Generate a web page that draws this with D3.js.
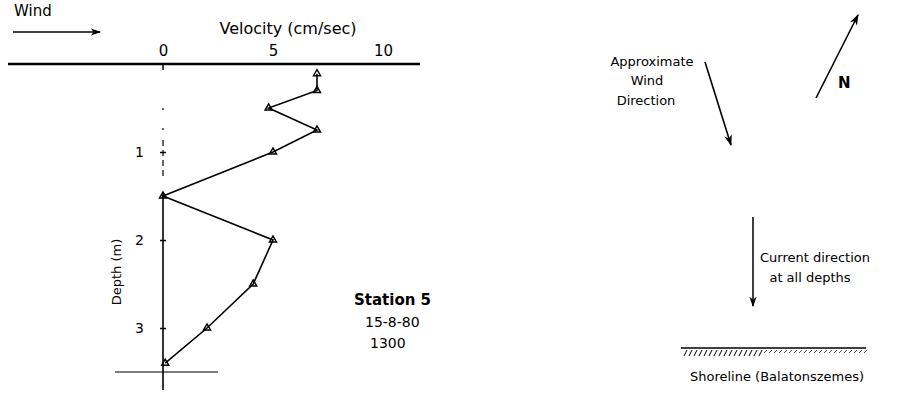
<!DOCTYPE html>
<html>
<head>
<meta charset="utf-8">
<script src="https://cdn.jsdelivr.net/npm/d3@7/dist/d3.min.js"></script>
<style>
  body { margin: 0; background: #fff; }
  text { font-family: "DejaVu Sans", sans-serif; fill: #000; }
</style>
</head>
<body>
<div id="chart"></div>
<script>
const depths = [0.11, 0.3, 0.5, 0.75, 1.0, 1.5, 2.0, 2.5, 3.0, 3.4];
const velocity = [7.0, 7.0, 4.8, 7.0, 5.0, 0.0, 5.0, 4.1, 2.0, 0.1];
const velocityTicks = [0, 5, 10];
const depthTicks = [1, 2, 3];

const width = 905;
const height = 393;

const svg = d3.select('#chart').append('svg')
    .attr('width', width)
    .attr('height', height);

const x = d3.scaleLinear().domain([0, 10]).range([163, 383]);
const y = d3.scaleLinear().domain([0, 3]).range([64, 328]);

// arrow head
svg.append('defs').append('marker')
    .attr('id', 'head')
    .attr('viewBox', '0 0 10 10')
    .attr('refX', 9).attr('refY', 5)
    .attr('markerWidth', 7).attr('markerHeight', 7)
    .attr('orient', 'auto')
    .append('path')
    .attr('d', 'M0,1.5 L10,5 L0,8.5 L3,5 Z')
    .attr('fill', '#000');

// wind label, top left
svg.append('text').attr('x', 14).attr('y', 16).style('font-size', '15px').text('Wind');
svg.append('line')
    .attr('x1', 13).attr('y1', 32).attr('x2', 100).attr('y2', 32)
    .attr('stroke', '#000').attr('stroke-width', 1.5)
    .attr('marker-end', 'url(#head)');

// velocity axis (top)
svg.append('text')
    .attr('x', 288).attr('y', 34)
    .attr('text-anchor', 'middle')
    .style('font-size', '16px')
    .text('Velocity (cm/sec)');

const xAxis = svg.append('g')
    .attr('transform', 'translate(0,64)')
    .call(d3.axisTop(x).tickValues(velocityTicks).tickSize(0).tickPadding(8));
xAxis.select('.domain').remove();
xAxis.selectAll('text').style('font-size', '15px').style('font-family', '"DejaVu Sans", sans-serif');

svg.append('line')
    .attr('x1', 8).attr('x2', 420).attr('y1', 64).attr('y2', 64)
    .attr('stroke', '#000').attr('stroke-width', 2.5);

// depth axis: short solid stub, dotted upper part, solid lower part
svg.append('line')
    .attr('x1', x(0)).attr('x2', x(0)).attr('y1', 64).attr('y2', 70)
    .attr('stroke', '#000').attr('stroke-width', 1.5);
svg.append('line')
    .attr('x1', x(0)).attr('x2', x(0)).attr('y1', 108).attr('y2', 140)
    .attr('stroke', '#000').attr('stroke-width', 1.2)
    .attr('stroke-dasharray', '2,18');
svg.append('line')
    .attr('x1', x(0)).attr('x2', x(0)).attr('y1', 140).attr('y2', 180)
    .attr('stroke', '#000').attr('stroke-width', 1.2)
    .attr('stroke-dasharray', '6,4');
svg.append('line')
    .attr('x1', x(0)).attr('x2', x(0)).attr('y1', 192).attr('y2', 390)
    .attr('stroke', '#000').attr('stroke-width', 1.6);

const yAxis = svg.append('g')
    .attr('transform', 'translate(' + (x(0) + 3) + ',0)')
    .call(d3.axisLeft(y).tickValues(depthTicks).tickFormat(d3.format('d')).tickSize(6).tickPadding(16));
yAxis.select('.domain').remove();
yAxis.selectAll('line').attr('stroke-width', 1.5);
yAxis.selectAll('text').style('font-size', '14px').style('font-family', '"DejaVu Sans", sans-serif');

svg.append('text')
    .attr('transform', 'translate(121,272) rotate(-90)')
    .attr('text-anchor', 'middle')
    .style('font-size', '13px')
    .text('Depth (m)');

// bottom line
svg.append('line')
    .attr('x1', 115).attr('x2', 218).attr('y1', 372).attr('y2', 372)
    .attr('stroke', '#000').attr('stroke-width', 1.2);

// profile
const pts = depths.map(function (d, i) { return [velocity[i], d]; });
const line = d3.line()
    .x(function (d) { return x(d[0]); })
    .y(function (d) { return y(d[1]); });

svg.append('path')
    .datum(pts)
    .attr('d', line)
    .attr('fill', 'none')
    .attr('stroke', '#000')
    .attr('stroke-width', 1.6);

svg.selectAll('.pt')
    .data(pts)
    .enter()
    .append('path')
    .attr('class', 'pt')
    .attr('transform', function (d) { return 'translate(' + x(d[0]) + ',' + y(d[1]) + ')'; })
    .attr('d', d3.symbol().type(d3.symbolTriangle).size(22))
    .attr('fill', 'none')
    .attr('stroke', '#000')
    .attr('stroke-width', 1.4);

// station label
svg.append('text').attr('x', 354).attr('y', 305)
    .style('font-size', '15px').style('font-weight', 'bold').text('Station 5');
svg.append('text').attr('x', 365).attr('y', 327)
    .style('font-size', '14px').text('15-8-80');
svg.append('text').attr('x', 370).attr('y', 348)
    .style('font-size', '14px').text('1300');

// wind direction
const wind = svg.append('text').style('font-size', '13px').attr('text-anchor', 'middle');
wind.append('tspan').attr('x', 652).attr('y', 66).text('Approximate');
wind.append('tspan').attr('x', 647).attr('y', 85).text('Wind');
wind.append('tspan').attr('x', 646).attr('y', 105).text('Direction');
svg.append('line')
    .attr('x1', 705).attr('y1', 62).attr('x2', 731).attr('y2', 145)
    .attr('stroke', '#000').attr('stroke-width', 1.6)
    .attr('marker-end', 'url(#head)');

// north arrow
svg.append('line')
    .attr('x1', 816).attr('y1', 98).attr('x2', 858).attr('y2', 15)
    .attr('stroke', '#000').attr('stroke-width', 1.6)
    .attr('marker-end', 'url(#head)');
svg.append('text').attr('x', 838).attr('y', 88)
    .style('font-size', '15px').style('font-weight', 'bold').text('N');

// current direction
svg.append('line')
    .attr('x1', 753).attr('y1', 217).attr('x2', 753).attr('y2', 306)
    .attr('stroke', '#000').attr('stroke-width', 1.5)
    .attr('marker-end', 'url(#head)');
const cur = svg.append('text').style('font-size', '13px').attr('text-anchor', 'middle');
cur.append('tspan').attr('x', 815).attr('y', 262).text('Current direction');
cur.append('tspan').attr('x', 810).attr('y', 282).text('at all depths');

// shoreline
svg.append('line')
    .attr('x1', 681).attr('x2', 866).attr('y1', 348).attr('y2', 348)
    .attr('stroke', '#000').attr('stroke-width', 1.5);
const hatch = d3.range(684, 866, 5);
svg.selectAll('.hatch')
    .data(hatch)
    .enter()
    .append('line')
    .attr('class', 'hatch')
    .attr('x1', function (d) { return d + 3; })
    .attr('x2', function (d) { return d; })
    .attr('y1', 350)
    .attr('y2', function (d) { return d < 760 ? 356 : 353; })
    .attr('stroke', '#000')
    .attr('stroke-width', function (d) { return d < 760 ? 1 : 0.7; });
svg.append('text').attr('x', 690).attr('y', 381)
    .style('font-size', '13px').text('Shoreline  (Balatonszemes)');
</script>
</body>
</html>
